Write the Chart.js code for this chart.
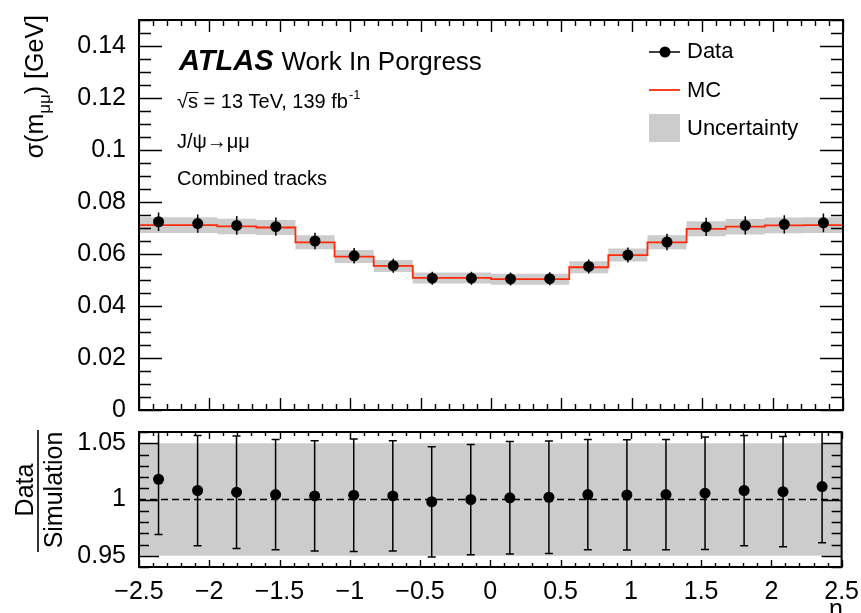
<!DOCTYPE html>
<html><head><meta charset="utf-8">
<script src="https://cdn.jsdelivr.net/npm/chart.js@4.4.1/dist/chart.umd.min.js"></script>
<style>
html,body{margin:0;padding:0;background:#fff;}
#wrap{position:relative;width:861px;height:613px;overflow:hidden;background:#fff;}
canvas{position:absolute;left:0;top:0;}
</style></head><body>
<div id="wrap"><canvas id="main" width="861" height="613"></canvas><canvas id="ratio" width="861" height="613"></canvas></div>
<script>
// ---- data ----
const etaEdges = [-2.5, -2.2222, -1.9444, -1.6667, -1.3889, -1.1111, -0.8333, -0.5556, -0.2778, 0, 0.2778, 0.5556, 0.8333, 1.1111, 1.3889, 1.6667, 1.9444, 2.2222, 2.5];
const etaCenters = [-2.361, -2.083, -1.806, -1.528, -1.25, -0.972, -0.694, -0.417, -0.139, 0.139, 0.417, 0.694, 0.972, 1.25, 1.528, 1.806, 2.083, 2.361];
const dataSigma = [0.0724, 0.0717, 0.0710, 0.0705, 0.0650, 0.0593, 0.0555, 0.0507, 0.0507, 0.0504, 0.0505, 0.0552, 0.0596, 0.0646, 0.0704, 0.0710, 0.0714, 0.0720];
const dataSigmaErr = [0.0036, 0.0035, 0.0036, 0.0035, 0.0032, 0.0030, 0.0027, 0.0025, 0.0025, 0.0025, 0.0025, 0.0027, 0.0029, 0.0032, 0.0035, 0.0035, 0.0035, 0.0036];
const mcSigma = [0.0711, 0.0711, 0.0706, 0.0702, 0.0645, 0.0590, 0.0554, 0.0508, 0.0508, 0.0503, 0.0503, 0.0549, 0.0596, 0.0645, 0.0697, 0.0705, 0.0710, 0.0711];
const mcSigmaErr = [0.0030, 0.0030, 0.0030, 0.0029, 0.0027, 0.0025, 0.0023, 0.0021, 0.0021, 0.0021, 0.0021, 0.0023, 0.0025, 0.0027, 0.0029, 0.0030, 0.0030, 0.0030];
const ratioVals = [1.018, 1.008, 1.0065, 1.0044, 1.0032, 1.0038, 1.0032, 0.998, 1.000, 1.0015, 1.002, 1.0044, 1.0041, 1.0044, 1.0056, 1.008, 1.007, 1.0115];
const ratioErr = [0.049, 0.049, 0.050, 0.049, 0.049, 0.050, 0.049, 0.049, 0.049, 0.050, 0.050, 0.049, 0.049, 0.049, 0.050, 0.049, 0.049, 0.050];
const ratioBandLow = 0.95;
const ratioBandHigh = 1.05;
const ratioRef = 1;

// ---- ticks ----
const xTickVals = [-2.5, -2, -1.5, -1, -0.5, 0, 0.5, 1, 1.5, 2, 2.5];
const xTickLabels = ['\u22122.5', '\u22122', '\u22121.5', '\u22121', '\u22120.5', '0', '0.5', '1', '1.5', '2', '2.5'];
const yTickVals = [0, 0.02, 0.04, 0.06, 0.08, 0.1, 0.12, 0.14];
const yTickLabels = ['0', '0.02', '0.04', '0.06', '0.08', '0.1', '0.12', '0.14'];
const rTickVals = [0.95, 1, 1.05];
const rTickLabels = ['0.95', '1', '1.05'];

const FONT = '"Liberation Sans", Arial, Helvetica, sans-serif';
Chart.defaults.font.family = FONT;
Chart.defaults.color = '#000';

function stepPoints(vals) {
  return etaEdges.map((e, i) => ({ x: e, y: vals[Math.min(i, vals.length - 1)] }));
}

function frameTicks(name, c) {
  return {
    id: 'frame_' + name,
    afterDatasetsDraw(chart) {
      const { ctx, chartArea: a, scales: { x, y } } = chart;
      ctx.save();
      ctx.strokeStyle = '#000';
      ctx.lineWidth = 1.4;
      ctx.beginPath();
      const nX = Math.round((x.max - x.min) / c.xMinor);
      for (let k = 0; k <= nX; k++) {
        const v = x.min + k * c.xMinor;
        const major = Math.abs(v / c.xMajor - Math.round(v / c.xMajor)) < 1e-6;
        const L = major ? c.xMajLen : c.xMinLen;
        const px = Math.round(x.getPixelForValue(v)) + 0.5;
        ctx.moveTo(px, a.bottom); ctx.lineTo(px, a.bottom - L);
        ctx.moveTo(px, a.top); ctx.lineTo(px, a.top + L);
      }
      const nY = Math.round((y.max - y.min) / c.yMinor);
      for (let k = 0; k <= nY; k++) {
        const v = y.min + k * c.yMinor;
        const major = c.yMajors.some(m => Math.abs(m - v) < 1e-7);
        const L = major ? c.yMajLen : c.yMinLen;
        const py = Math.round(y.getPixelForValue(v)) + 0.5;
        ctx.moveTo(a.left, py); ctx.lineTo(a.left + L, py);
        ctx.moveTo(a.right, py); ctx.lineTo(a.right - L, py);
      }
      ctx.stroke();
      ctx.lineWidth = 2;
      ctx.strokeRect(a.left, a.top, a.right - a.left, a.bottom - a.top);
      ctx.restore();
    }
  };
}

function errBars(name, vals, errs, cap) {
  return {
    id: 'err_' + name,
    afterDatasetsDraw(chart) {
      const { ctx, chartArea: a, scales: { x, y } } = chart;
      ctx.save();
      ctx.beginPath(); ctx.rect(a.left, a.top, a.right - a.left, a.bottom - a.top); ctx.clip();
      ctx.strokeStyle = '#000'; ctx.lineWidth = 1.5;
      ctx.beginPath();
      for (let i = 0; i < vals.length; i++) {
        const px = x.getPixelForValue(etaCenters[i]);
        const y1 = y.getPixelForValue(vals[i] + errs[i]);
        const y2 = y.getPixelForValue(vals[i] - errs[i]);
        ctx.moveTo(px, y1); ctx.lineTo(px, y2);
        if (cap) {
          ctx.moveTo(px - cap, y1); ctx.lineTo(px + cap, y1);
          ctx.moveTo(px - cap, y2); ctx.lineTo(px + cap, y2);
        }
      }
      ctx.stroke();
      ctx.restore();
    }
  };
}

function drawPieces(ctx, pieces, x0, baseline) {
  let x = x0;
  for (const p of pieces) {
    ctx.font = (p.style || '') + ' ' + p.size + 'px ' + FONT;
    ctx.fillText(p.t, x, baseline + (p.dy || 0));
    x += ctx.measureText(p.t).width;
  }
}
function piecesWidth(ctx, pieces) {
  let w = 0;
  for (const p of pieces) { ctx.font = (p.style || '') + ' ' + p.size + 'px ' + FONT; w += ctx.measureText(p.t).width; }
  return w;
}

const textPlugin = {
  id: 'texts',
  afterDraw(chart) {
    const ctx = chart.ctx;
    ctx.save();
    ctx.fillStyle = '#000';
    ctx.textBaseline = 'alphabetic';
    ctx.textAlign = 'left';
    // ATLAS label
    ctx.font = 'italic bold 29px ' + FONT;
    ctx.fillText('ATLAS', 179, 70);
    const wA = ctx.measureText('ATLAS').width;
    ctx.font = '26px ' + FONT;
    ctx.fillText('Work In Porgress', 179 + wA + 8, 70);
    // sqrt(s)
    ctx.font = '20px ' + FONT;
    const wR = ctx.measureText('\u221A').width;
    const wS = ctx.measureText('s').width;
    ctx.fillText('\u221As = 13 TeV, 139 fb', 177, 108);
    const w1 = ctx.measureText('\u221As = 13 TeV, 139 fb').width;
    ctx.strokeStyle = '#000'; ctx.lineWidth = 1;
    ctx.beginPath(); ctx.moveTo(177 + wR - 1, 92.5); ctx.lineTo(177 + wR + wS + 0.5, 92.5); ctx.stroke();
    ctx.font = '13px ' + FONT;
    ctx.fillText('-1', 177 + w1 + 1, 99);
    ctx.font = '20px ' + FONT;
    ctx.fillText('J/\u03C8\u2192\u03BC\u03BC', 177, 148);
    ctx.fillText('Combined tracks', 177, 185);
    // legend
    ctx.strokeStyle = '#000'; ctx.lineWidth = 1.5;
    ctx.beginPath(); ctx.moveTo(649, 52); ctx.lineTo(680, 52); ctx.stroke();
    ctx.beginPath(); ctx.arc(665, 52, 5.5, 0, Math.PI * 2); ctx.fill();
    ctx.strokeStyle = '#ff2a0a'; ctx.lineWidth = 1.8;
    ctx.beginPath(); ctx.moveTo(649, 90); ctx.lineTo(680, 90); ctx.stroke();
    ctx.fillStyle = '#cccccc';
    ctx.fillRect(649, 114, 31, 28);
    ctx.fillStyle = '#000';
    ctx.font = '22px ' + FONT;
    ctx.fillText('Data', 687, 58);
    ctx.fillText('MC', 687, 97);
    ctx.fillText('Uncertainty', 687, 135);
    // y title
    ctx.translate(43, 15);
    ctx.rotate(-Math.PI / 2);
    const pcs = [{ t: '\u03C3(m', size: 25 }, { t: '\u03BC\u03BC', size: 17, dy: 7 }, { t: ') [GeV]', size: 25 }];
    const W = piecesWidth(ctx, pcs);
    drawPieces(ctx, pcs, -W, 0);
    ctx.restore();
  }
};

const ratioText = {
  id: 'rtexts',
  afterDraw(chart) {
    const ctx = chart.ctx;
    ctx.save();
    ctx.fillStyle = '#000';
    ctx.font = '25px ' + FONT;
    ctx.textAlign = 'right';
    ctx.fillText('\u03B7', 843, 617);
    ctx.textAlign = 'center';
    ctx.save();
    ctx.translate(33, 490); ctx.rotate(-Math.PI / 2);
    ctx.fillText('Data', 0, 0);
    ctx.restore();
    ctx.save();
    ctx.translate(62, 490); ctx.rotate(-Math.PI / 2);
    ctx.fillText('Simulation', 0, 0);
    ctx.restore();
    ctx.strokeStyle = '#000'; ctx.lineWidth = 1.6;
    ctx.beginPath(); ctx.moveTo(38, 430); ctx.lineTo(38, 552); ctx.stroke();
    ctx.restore();
  }
};

const baseOpts = {
  responsive: false, animation: false, devicePixelRatio: 1, events: [],
  plugins: { legend: { display: false }, tooltip: { enabled: false } },
};

new Chart(document.getElementById('main'), {
  type: 'line',
  data: {
    datasets: [
      { label: 'Data', data: etaCenters.map((c, i) => ({ x: c, y: dataSigma[i] })), showLine: false,
        pointRadius: 5.5, pointBackgroundColor: '#000', pointBorderWidth: 0, order: 0 },
      { label: 'MC', data: stepPoints(mcSigma), stepped: 'before', borderColor: '#ff2a0a', borderWidth: 1.8,
        pointRadius: 0, fill: false, order: 1 },
      { label: 'UncUp', data: stepPoints(mcSigma.map((v, i) => v + mcSigmaErr[i])), stepped: 'before', borderWidth: 0,
        pointRadius: 0, fill: '+1', backgroundColor: '#cccccc', order: 2 },
      { label: 'UncLo', data: stepPoints(mcSigma.map((v, i) => v - mcSigmaErr[i])), stepped: 'before', borderWidth: 0,
        pointRadius: 0, fill: false, order: 3 },
    ]
  },
  options: Object.assign({}, baseOpts, {
    layout: { padding: { left: 0, right: 18, top: 15, bottom: 0 } },
    scales: {
      x: { type: 'linear', min: -2.5, max: 2.5, grid: { display: false }, border: { display: false },
        ticks: { display: false }, afterFit(s) { s.height = 203; } },
      y: { type: 'linear', min: 0, max: 0.15, grid: { display: false }, border: { display: false },
        afterBuildTicks(s) { s.ticks = yTickVals.map(v => ({ value: v })); },
        ticks: { autoSkip: false, padding: 5, font: { size: 25 }, callback: (v, i) => yTickLabels[i] },
        afterFit(s) { s.width = 139; } }
    }
  }),
  plugins: [frameTicks('main', { xMinor: 0.1, xMajor: 0.5, xMinLen: 6, xMajLen: 12, yMinor: 0.005, yMajors: yTickVals, yMinLen: 12, yMajLen: 23 }),
            errBars('main', dataSigma, dataSigmaErr, 0), textPlugin]
});

new Chart(document.getElementById('ratio'), {
  type: 'line',
  data: {
    datasets: [
      { label: 'Ratio', data: etaCenters.map((c, i) => ({ x: c, y: ratioVals[i] })), showLine: false,
        pointRadius: 5.5, pointBackgroundColor: '#000', pointBorderWidth: 0, order: 0 },
      { label: 'Ref', data: [{ x: -2.5, y: ratioRef }, { x: 2.5, y: ratioRef }], borderColor: '#000', borderWidth: 1.4,
        borderDash: [7, 4], pointRadius: 0, fill: false, order: 1 },
      { label: 'BandUp', data: [{ x: -2.5, y: ratioBandHigh }, { x: 2.5, y: ratioBandHigh }], borderWidth: 0,
        pointRadius: 0, fill: '+1', backgroundColor: '#cccccc', order: 2 },
      { label: 'BandLo', data: [{ x: -2.5, y: ratioBandLow }, { x: 2.5, y: ratioBandLow }], borderWidth: 0,
        pointRadius: 0, fill: false, order: 3 },
    ]
  },
  options: Object.assign({}, baseOpts, {
    layout: { padding: { left: 0, right: 18, top: 432, bottom: 0 } },
    scales: {
      x: { type: 'linear', min: -2.5, max: 2.5, grid: { display: false }, border: { display: false },
        afterBuildTicks(s) { s.ticks = xTickVals.map(v => ({ value: v })); },
        ticks: { autoSkip: false, maxRotation: 0, padding: 2, font: { size: 25 }, callback: (v, i) => xTickLabels[i] },
        afterFit(s) { s.height = 46; } },
      y: { type: 'linear', min: 0.94, max: 1.06, grid: { display: false }, border: { display: false },
        afterBuildTicks(s) { s.ticks = rTickVals.map(v => ({ value: v })); },
        ticks: { autoSkip: false, padding: 5, font: { size: 25 }, callback: (v, i) => rTickLabels[i] },
        afterFit(s) { s.width = 139; } }
    }
  }),
  plugins: [frameTicks('ratio', { xMinor: 0.1, xMajor: 0.5, xMinLen: 4, xMajLen: 7, yMinor: 0.01, yMajors: rTickVals, yMinLen: 10, yMajLen: 20 }),
            errBars('ratio', ratioVals, ratioErr, 4), ratioText]
});
</script>
</body></html>
